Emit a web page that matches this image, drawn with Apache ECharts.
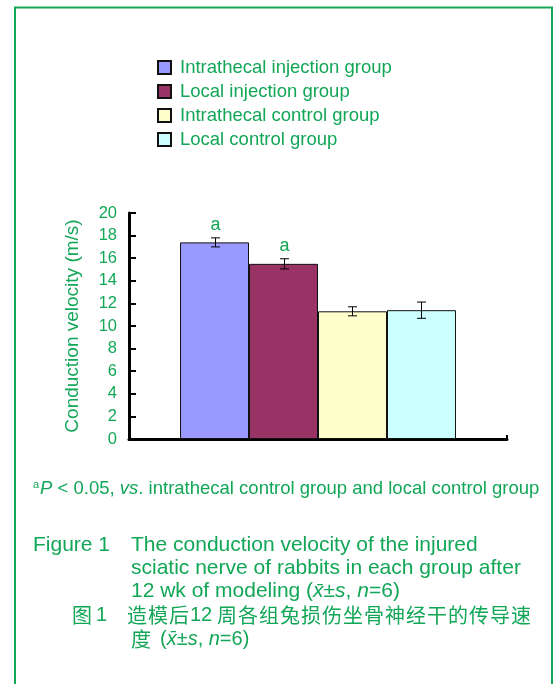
<!DOCTYPE html>
<html>
<head>
<meta charset="utf-8">
<script src="https://cdn.jsdelivr.net/npm/echarts@6/dist/echarts.min.js"></script>
<style>
html,body{margin:0;padding:0;background:#fff;}
#main{width:555px;height:684px;}
</style>
</head>
<body>
<div id="main"></div>
<script>
// 数据
var groups = ['Intrathecal injection group', 'Local injection group', 'Intrathecal control group', 'Local control group'];
var means = [17.4, 15.5, 11.3, 11.4];
var sds = [0.4, 0.45, 0.4, 0.72];
var marks = ['a', 'a', '', ''];
var colors = ['#9999ff', '#993366', '#ffffcc', '#ccffff'];
var yMin = 0, yMax = 20, yStep = 2;

var green = '#12a657';
var catGap = 0.27;
var font = 'Arial, "Liberation Sans", sans-serif';
var cjk = '"Noto Sans CJK SC", sans-serif';

var series = groups.map(function (g, i) {
	return {
		name: g,
		type: 'bar',
		data: [means[i]],
		barGap: '0%',
		barCategoryGap: (catGap * 100) + '%',
		itemStyle: { color: colors[i], borderColor: '#111', borderWidth: 1 },
		z: 2
	};
});

// 误差线 + 显著性标记
series.push({
	type: 'custom',
	name: 'err',
	data: means.map(function (m, i) { return [0, m, sds[i], i]; }),
	encode: { x: 0, y: 1 },
	z: 5,
	renderItem: function (params, api) {
		var i = api.value(3);
		var m = api.value(1), sd = api.value(2);
		var n = groups.length;
		var band = api.size([1, 0])[0];
		var barW = band * (1 - catGap) / n;
		var c = api.coord([0, m]);
		var x = Math.round(c[0] + (i - (n - 1) / 2) * barW) + 0.5;
		var yTop = api.coord([0, m + sd])[1];
		var yBot = api.coord([0, m - sd])[1];
		var cap = 4.5;
		var st = { stroke: '#000', lineWidth: 1 };
		var kids = [
			{ type: 'line', shape: { x1: x, y1: yTop, x2: x, y2: yBot }, style: st },
			{ type: 'line', shape: { x1: x - cap, y1: yTop, x2: x + cap, y2: yTop }, style: st },
			{ type: 'line', shape: { x1: x - cap, y1: yBot, x2: x + cap, y2: yBot }, style: st }
		];
		if (marks[i]) {
			kids.push({
				type: 'text',
				style: { text: marks[i], x: x, y: yTop - 4, align: 'center', verticalAlign: 'bottom', fill: green, font: '18px ' + font }
			});
		}
		return { type: 'group', children: kids };
	}
});

// 标注文字
var texts = [];
function addText(str, x, y, size, fam, rich) {
	texts.push({
		type: 'text', left: x, top: y,
		style: { text: str, fill: green, fontSize: size, fontFamily: fam, rich: rich }
	});
}
var rich = {
	i: { fontStyle: 'italic', fontSize: 21, fontFamily: font, fill: green },
	sup: { fontSize: 11, fontFamily: font, fill: green, verticalAlign: 'top', padding: [0, 1, 9, 0] },
	fi: { fontStyle: 'italic', fontSize: 18.5, fontFamily: font, fill: green }
};
var rich2 = {
	i: { fontStyle: 'italic', fontSize: 20, fontFamily: font, fill: green }
};
addText('{sup|a}{fi|P} < 0.05, {fi|vs}. intrathecal control group and local control group', 33, 479, 18.5, font, rich);
addText('Figure 1', 33, 535, 21, font);
addText('The conduction velocity of the injured', 131, 535, 21, font);
addText('sciatic nerve of rabbits in each group after', 131, 558, 21, font);
addText('12 wk of modeling ({i|x\u0304}±{i|s}, {i|n}=6)', 131, 581, 21, font, rich);
addText('图', 72, 605, 20, cjk);
addText('1', 96, 605, 20, font);
var cnLine = '造模后12周各组兔损伤坐骨神经干的传导速';
var cx = 127;
cnLine.replace(/12|./g, function (ch) {
	addText(ch, cx, 605, 20, ch === '12' ? font : cjk);
	cx += ch === '12' ? 27 : 21;
	return ch;
});
addText('度', 131, 629, 20, cjk);
addText('({i|x\u0304}±{i|s}, {i|n}=6)', 160, 629, 20, font, rich2);

var chart = echarts.init(document.getElementById('main'));
chart.setOption({
	animation: false,
	legend: {
		data: groups,
		orient: 'vertical',
		left: 157, top: 58,
		padding: 0,
		itemWidth: 13, itemHeight: 13,
		itemGap: 5,
		icon: 'rect',
		textStyle: { color: green, fontSize: 18.5, fontFamily: font, padding: [0, 0, 0, 4] }
	},
	grid: { left: 129, right: 48, top: 213, bottom: 245, containLabel: false },
	xAxis: {
		type: 'category',
		data: [''],
		axisLine: { lineStyle: { color: '#000', width: 3 } },
		axisTick: { show: true, inside: true, length: 4, lineStyle: { color: '#000', width: 2 } },
		axisLabel: { show: false }
	},
	yAxis: {
		type: 'value',
		min: yMin, max: yMax, interval: yStep,
		name: 'Conduction velocity (m/s)',
		nameLocation: 'middle',
		nameGap: 47,
		nameTextStyle: { color: green, fontSize: 19, fontFamily: font },
		axisLine: { show: true, lineStyle: { color: '#000', width: 3 } },
		axisTick: { show: true, inside: true, length: 7, lineStyle: { color: '#000', width: 2 } },
		axisLabel: { color: green, fontSize: 16.5, fontFamily: font, margin: 12 },
		splitLine: { show: false }
	},
	graphic: [{
		type: 'rect',
		shape: { x: 15, y: 7.5, width: 537, height: 700 },
		style: { fill: 'none', stroke: '#12a657', lineWidth: 2 },
		z: -1
	}].concat(texts),
	series: series
});
</script>
</body>
</html>
